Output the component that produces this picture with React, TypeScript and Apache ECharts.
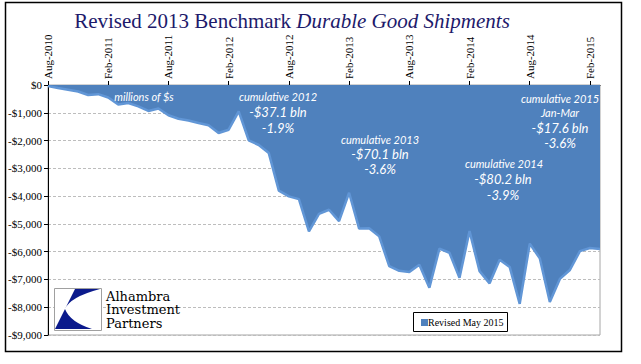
import React, { useEffect, useRef } from 'react';
import * as echarts from 'echarts';

const months: string[] = [
  'Aug-2010', 'Sep-2010', 'Oct-2010', 'Nov-2010', 'Dec-2010',
  'Jan-2011', 'Feb-2011', 'Mar-2011', 'Apr-2011', 'May-2011', 'Jun-2011', 'Jul-2011', 'Aug-2011', 'Sep-2011', 'Oct-2011', 'Nov-2011', 'Dec-2011',
  'Jan-2012', 'Feb-2012', 'Mar-2012', 'Apr-2012', 'May-2012', 'Jun-2012', 'Jul-2012', 'Aug-2012', 'Sep-2012', 'Oct-2012', 'Nov-2012', 'Dec-2012',
  'Jan-2013', 'Feb-2013', 'Mar-2013', 'Apr-2013', 'May-2013', 'Jun-2013', 'Jul-2013', 'Aug-2013', 'Sep-2013', 'Oct-2013', 'Nov-2013', 'Dec-2013',
  'Jan-2014', 'Feb-2014', 'Mar-2014', 'Apr-2014', 'May-2014', 'Jun-2014', 'Jul-2014', 'Aug-2014', 'Sep-2014', 'Oct-2014', 'Nov-2014', 'Dec-2014',
  'Jan-2015', 'Feb-2015', 'Mar-2015',
];

const revisions: number[] = [
  -40, -110, -170, -235, -360,
  -330, -450, -700, -650, -770, -935, -845, -1090, -1215, -1275, -1370, -1450,
  -1730, -1610, -950, -1990, -2160, -2450, -3800, -4010, -4110, -5270, -4640, -4490,
  -4900, -3880, -5170, -5160, -5450, -6520, -6690, -6730, -6470, -7300, -5890, -6040,
  -6940, -5260, -6700, -7140, -6290, -6550, -7880, -5710, -6240, -7810, -6980, -6660,
  -5980, -5870, -5900,
];

const logoLines: string[] = ['Alhambra', 'Investment', 'Partners'];

const seriesName = 'Revised May 2015';
const yMin = -9000;
const yMax = 0;
const yStep = 1000;

const LOGO_D = 'M21 1 L46 1 Q16 9 11 21 Q16 34 38 41 L1 41 Z';
echarts.graphic.registerShape('logo', echarts.graphic.extendPath(LOGO_D, {}));

const SERIF = '"Liberation Serif", "Times New Roman", serif';
const SANS = 'Lato, "Open Sans", sans-serif';

function fmtY(v: number): string {
  if (v === 0) return '$0';
  return (v < 0 ? '-$' : '$') + Math.abs(v).toLocaleString('en-US');
}

function note(text: string, x: number, y: number, size: number) {
  return {
    type: 'text',
    x,
    y,
    z: 100,
    style: {
      text,
      fill: '#ffffff',
      font: `italic ${size}px ${SANS}`,
      align: 'center',
      verticalAlign: 'middle',
    },
  };
}

export default function App() {
  const ref = useRef<HTMLDivElement>(null);

  useEffect(() => {
    if (!ref.current) return;
    const chart = echarts.init(ref.current, undefined, { renderer: 'svg' });
    chart.setOption({
      animation: false,
      backgroundColor: '#ffffff',
      grid: {
        left: 48,
        right: 41,
        top: 85,
        bottom: 29,
        show: true,
        borderColor: '#a6a6a6',
        borderWidth: 1,
        backgroundColor: 'transparent',
      },
      xAxis: {
        type: 'category',
        position: 'top',
        data: months,
        boundaryGap: false,
        axisLine: { show: true, lineStyle: { color: '#000', width: 1 } },
        axisTick: { show: true, interval: 5, length: 4, lineStyle: { color: '#000' } },
        axisLabel: {
          interval: 5,
          rotate: 90,
          margin: 6,
          color: '#000',
          fontFamily: SERIF,
          fontSize: 11,
        },
        splitLine: { show: false },
      },
      yAxis: {
        type: 'value',
        min: yMin,
        max: yMax,
        interval: yStep,
        axisLine: { show: true, lineStyle: { color: '#000', width: 1 } },
        axisTick: { show: true, length: 4, lineStyle: { color: '#000' } },
        axisLabel: {
          margin: 6,
          color: '#000',
          fontFamily: SERIF,
          fontSize: 11,
          formatter: fmtY,
        },
        splitLine: { show: true, lineStyle: { color: '#bdbdbd', type: [3, 2], width: 1 } },
      },
      series: [
        {
          name: seriesName,
          type: 'line',
          data: revisions,
          symbol: 'none',
          showSymbol: false,
          lineStyle: { color: '#6196d6', width: 2.5 },
          itemStyle: { color: '#4f81bd' },
          areaStyle: { color: '#4f81bd', opacity: 1 },
        },
      ],
      graphic: [
        {
          type: 'rect',
          shape: { x: 5.5, y: 2.5, width: 616, height: 349 },
          style: { fill: 'none', stroke: '#000', lineWidth: 1.5 },
          silent: true,
        },
        {
          type: 'text',
          x: 292,
          y: 21,
          style: {
            text: '{a|Revised 2013 Benchmark }{b|Durable Good Shipments}',
            align: 'center',
            verticalAlign: 'middle',
            rich: {
              a: { fontFamily: SERIF, fontSize: 21, fill: '#1d1a6b', color: '#1d1a6b' },
              b: { fontFamily: SERIF, fontSize: 21, fontStyle: 'italic', fill: '#1d1a6b', color: '#1d1a6b' },
            },
          },
        },
        note('millions of $s', 144, 96, 11),
        note('cumulative 2012', 278, 96, 11),
        note('-$37.1 bln', 278, 112, 13),
        note('-1.9%', 278, 128, 13),
        note('cumulative 2013', 380, 139, 11),
        note('-$70.1 bln', 380, 154, 13),
        note('-3.6%', 380, 169, 13),
        note('cumulative 2014', 504, 163, 11),
        note('-$80.2 bln', 503, 179, 13),
        note('-3.9%', 503, 195, 13),
        note('cumulative 2015', 560, 98, 11),
        note('Jan-Mar', 560, 112, 11),
        note('-$17.6 bln', 560, 128, 13),
        note('-3.6%', 560, 143, 13),
        {
          type: 'rect',
          z: 100,
          shape: { x: 54.5, y: 288.5, width: 47, height: 42 },
          style: { fill: '#ffffff', stroke: '#a0a0a0', lineWidth: 1 },
        },
        {
          type: 'logo',
          z: 101,
          x: 54,
          y: 288,
          style: { fill: '#0b1a8c' },
        },
        ...logoLines.map((t, i) => ({
          type: 'text',
          z: 100,
          x: 106,
          y: 296 + i * 13.5,
          style: {
            text: t,
            fill: '#000',
            font: `13px "DejaVu Serif", serif`,
            align: 'left',
            verticalAlign: 'middle',
          },
        })),
        {
          type: 'rect',
          z: 100,
          shape: { x: 413.5, y: 312.5, width: 94, height: 19 },
          style: { fill: '#ffffff', stroke: '#000', lineWidth: 1 },
        },
        {
          type: 'rect',
          z: 101,
          shape: { x: 421, y: 319, width: 7, height: 7 },
          style: { fill: '#4f81bd' },
        },
        {
          type: 'text',
          z: 101,
          x: 428,
          y: 322.5,
          style: { text: seriesName, fill: '#000', font: `10px ${SERIF}`, align: 'left', verticalAlign: 'middle' },
        },
      ],
    });
    return () => chart.dispose();
  }, []);

  return (
    <div
      ref={ref}
      style={{ position: 'fixed', left: 0, top: 0, width: 641, height: 364, background: '#fff' }}
    />
  );
}
